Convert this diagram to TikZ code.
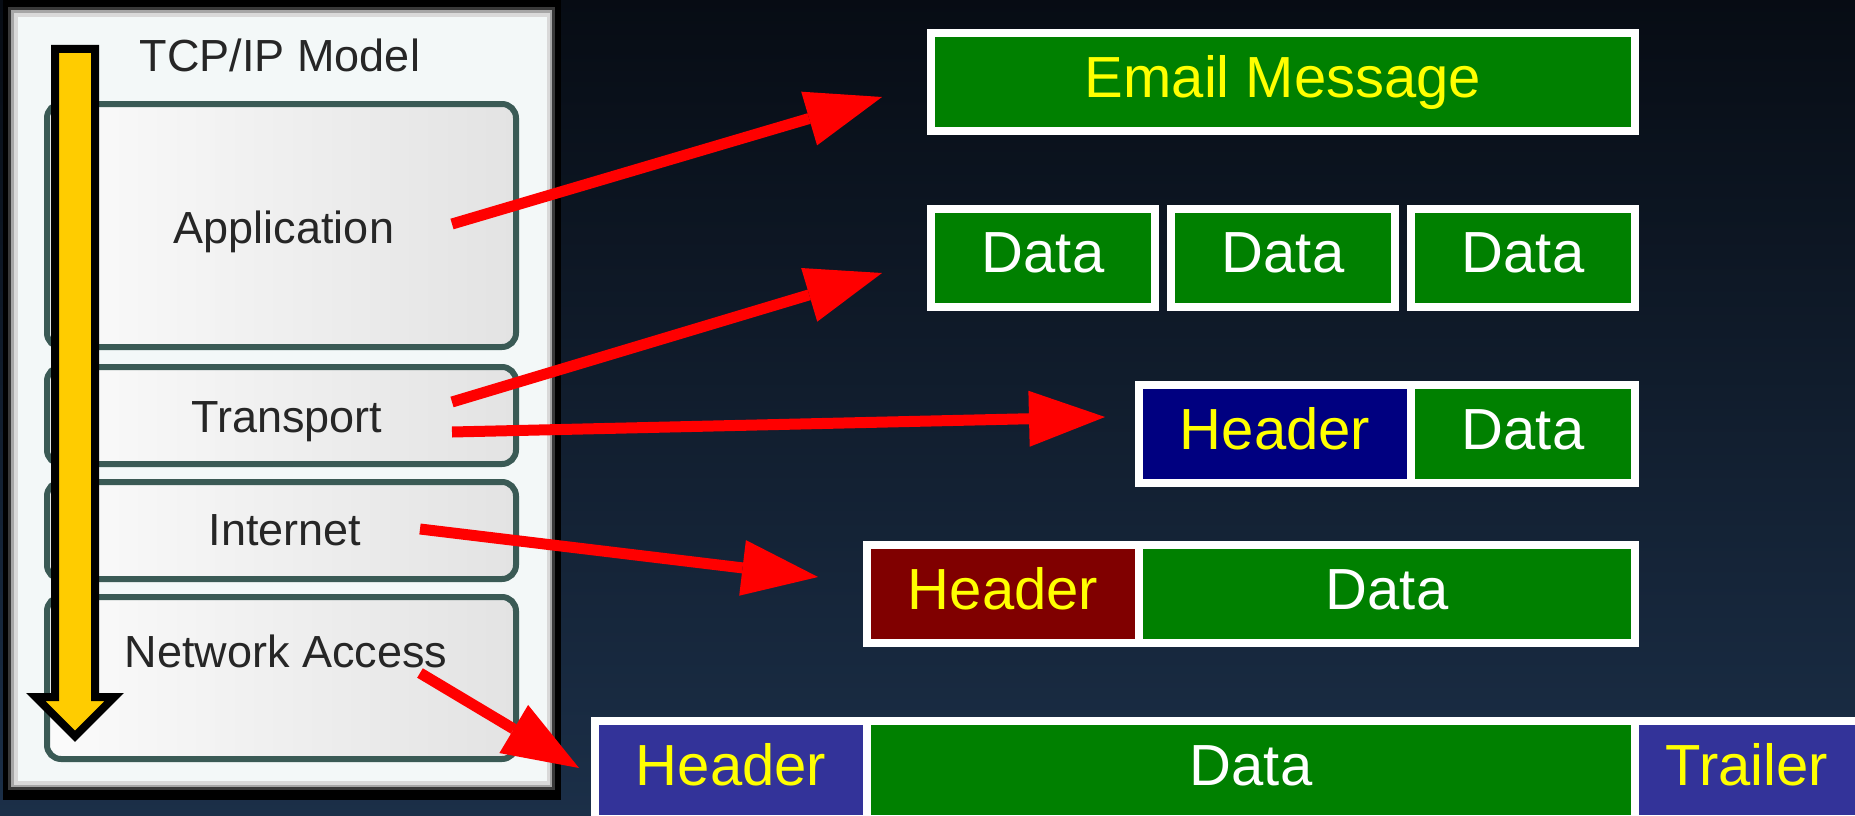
\documentclass[tikz,border=0pt]{standalone}
\usepackage{fontspec}
\setmainfont{Liberation Sans}
\usetikzlibrary{arrows.meta}

\definecolor{bgtop}{HTML}{070C14}
\definecolor{bgbot}{HTML}{1B2F48}
\definecolor{pgreen}{HTML}{008000}
\definecolor{pnavy}{HTML}{000080}
\definecolor{pmaroon}{HTML}{800000}
\definecolor{pviolet}{HTML}{333399}
\definecolor{pyellow}{HTML}{FFFF00}
\definecolor{layerline}{HTML}{3A5A55}
\definecolor{panelbg}{HTML}{F3F8F8}
\definecolor{ink}{HTML}{262626}
\definecolor{arrowgold}{HTML}{FFCC00}

\begin{document}
\begin{tikzpicture}[x=1pt,y=-1pt,
  cell/.style={inner sep=0pt, outer sep=0pt, minimum height=90pt,
    text height=42pt, text depth=12pt, font=\fontsize{58}{60}\selectfont},
  datacell/.style={cell, fill=pgreen, text=white},
  hdrcell/.style={cell, text=pyellow},
  frame/.style={fill=white},
  layer/.style={draw=layerline, line width=6pt, rounded corners=14pt,
    minimum width=469pt, inner sep=0pt, outer sep=0pt,
    left color=white!97!gray, right color=gray!22},
  layertext/.style={anchor=base, text=ink, inner sep=0pt,
    font=\fontsize{45}{50}\selectfont},
  push/.style={draw=red, line width=11pt,
    -{Triangle[length=76pt,width=56pt,line width=0pt]}}
]
\useasboundingbox (0,0) rectangle (1855,816);
\clip (0,0) rectangle (1855,816);

% background
\fill[top color=bgtop, bottom color=bgbot] (0,0) rectangle (1855,816);

% TCP/IP model panel with bevelled frame
\fill[black] (3,0) rectangle (561,800);
\fill[gray!45!black] (8,7) rectangle (555,790);
\fill[gray!70] (11,10) rectangle (552,787);
\fill[gray!30] (14,13) rectangle (550,785);
\fill[panelbg] (18,17) rectangle (547,781);

% layers
\node[layer, minimum height=243pt] (app)  at (281.5,225.5) {};
\node[layer, minimum height=97pt]  (trn)  at (281.5,415.5) {};
\node[layer, minimum height=97pt]  (inet) at (281.5,530.5) {};
\node[layer, minimum height=162pt] (nacc) at (281.5,678) {};

\node[layertext] (ttl)  at (280,72)  {TCP/IP Model};
\node[layertext] (tapp) at (284,243) {Application};
\node[layertext] (ttrn) at (287,432) {Transport};
\node[layertext] (tint) at (285,545) {Internet};
\node[layertext] (tnac) at (286,667) {Network Access};

% downward encapsulation arrow
\filldraw[fill=arrowgold, draw=black, line width=8pt, miter limit=10]
  (55,49) -- (95,49) -- (95,697) -- (114.3,697) -- (75,736.3)
  -- (35.7,697) -- (55,697) -- cycle;

% email message
\fill[frame] (927,29) rectangle (1639,135);
\node[cell, fill=pgreen, text=pyellow, minimum width=696pt] (email) at (1283,82) {Email Message};

% segmented data
\fill[frame] (927,205) rectangle (1159,311);
\fill[frame] (1167,205) rectangle (1399,311);
\fill[frame] (1407,205) rectangle (1639,311);
\node[datacell, minimum width=216pt] (d1) at (1043,257.5) {Data};
\node[datacell, minimum width=216pt] (d2) at (1283,257.5) {Data};
\node[datacell, minimum width=216pt] (d3) at (1523,257.5) {Data};

% segment
\fill[frame] (1135,381) rectangle (1639,487);
\node[hdrcell, fill=pnavy, minimum width=264pt] (h3) at (1275,434) {Header};
\node[datacell, minimum width=216pt] (d4) at (1523,434) {Data};

% packet
\fill[frame] (863,541) rectangle (1639,647);
\node[hdrcell, fill=pmaroon, minimum width=264pt] (h4) at (1003,594) {Header};
\node[datacell, minimum width=488pt] (d5) at (1387,594) {Data};

% frame
\fill[frame] (591,717) rectangle (1855,816);
\node[hdrcell, fill=pviolet, minimum width=264pt] (h5) at (731,770) {Header};
\node[datacell, minimum width=760pt] (d6) at (1251,770) {Data};
\node[hdrcell, fill=pviolet, minimum width=216pt] (t5) at (1747,770) {Trailer};

% layer-to-PDU arrows
\coordinate (s1) at (452,224);  \coordinate (e1) at (882,97);
\coordinate (s2) at (452,402);  \coordinate (e2) at (882,273);
\coordinate (s3) at (452,432);  \coordinate (e3) at (1105,417);
\coordinate (s4) at (420,529);  \coordinate (e4) at (818,577);
\coordinate (s5) at (420,673);  \coordinate (e5) at (579,768);
\draw[push] (s1) -- (e1);
\draw[push] (s2) -- (e2);
\draw[push] (s3) -- (e3);
\draw[push] (s4) -- (e4);
\draw[push] (s5) -- (e5);
\end{tikzpicture}
\end{document}
